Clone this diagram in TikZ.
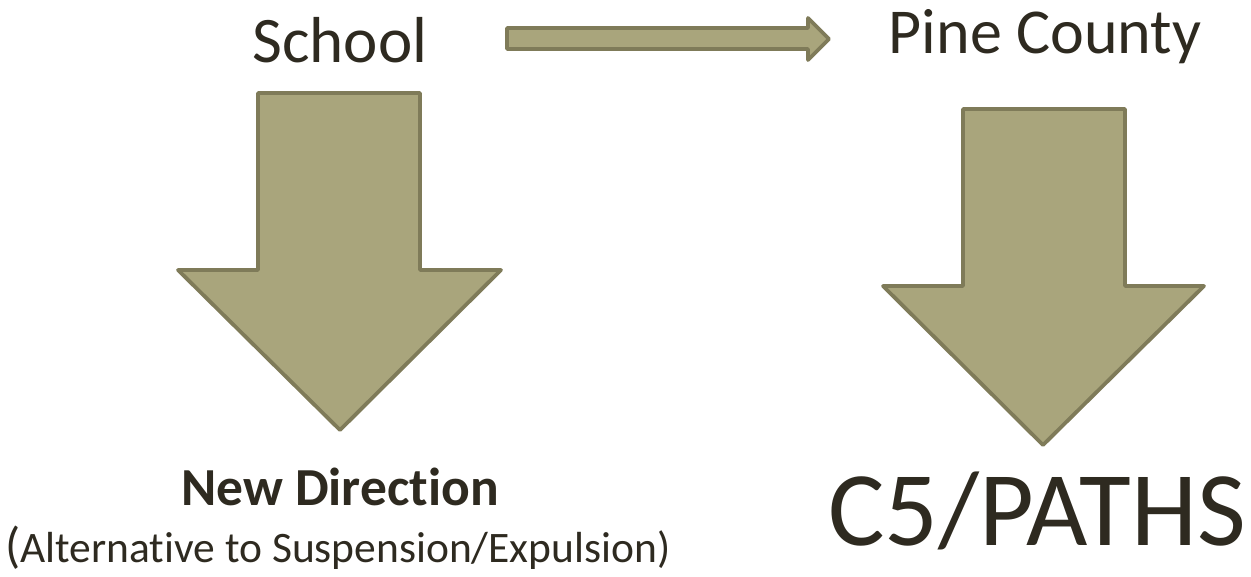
\documentclass[tikz,border=0pt]{standalone}
\usepackage{fontspec}
\setmainfont[Ligatures=NoCommon,RawFeature={-liga;-clig;-calt;-dlig}]{Carlito}
\definecolor{arrowfill}{HTML}{A9A57C}
\definecolor{arrowline}{HTML}{7F7B59}
\definecolor{textcol}{HTML}{2E2A20}
\begin{document}
\begin{tikzpicture}[x=1pt,y=-1pt,
  shapearrow/.style={fill=arrowfill,draw=arrowline,line width=3.8pt,line join=round},
  lbl/.style={text=textcol,inner sep=0pt,anchor=base}]
\useasboundingbox (0,0) rectangle (1251,576);
% horizontal arrow
\draw[shapearrow] (507,28) -- (808,28) -- (808,18) -- (829,39) -- (808,60) -- (808,49) -- (507,49) -- cycle;
% left down arrow
\draw[shapearrow] (258,93) -- (420,93) -- (420,270) -- (501,270) -- (340,430) -- (178,270) -- (258,270) -- cycle;
% right down arrow
\draw[shapearrow] (963,109) -- (1125,109) -- (1125,286) -- (1204,286) -- (1043,445) -- (883,286) -- (963,286) -- cycle;
% texts
\node[lbl,font=\fontsize{65}{70}\selectfont] (school) at (340,62) {School};
\node[lbl,font=\fontsize{64}{70}\selectfont] (pine) at (1045,53) {Pine County};
\node[lbl,font=\fontsize{53.5}{60}\selectfont\bfseries] (nd) at (340,505) {New Direction};
\node[lbl,font=\fontsize{43.5}{50}\selectfont] (alt) at (338,562) {{\fontsize{50}{50}\selectfont(}Alternative to Suspension/Expulsion)};
\node[lbl,font=\fontsize{106}{110}\selectfont] (c5) at (1037,545) {C5/PATHS};
\end{tikzpicture}
\end{document}
